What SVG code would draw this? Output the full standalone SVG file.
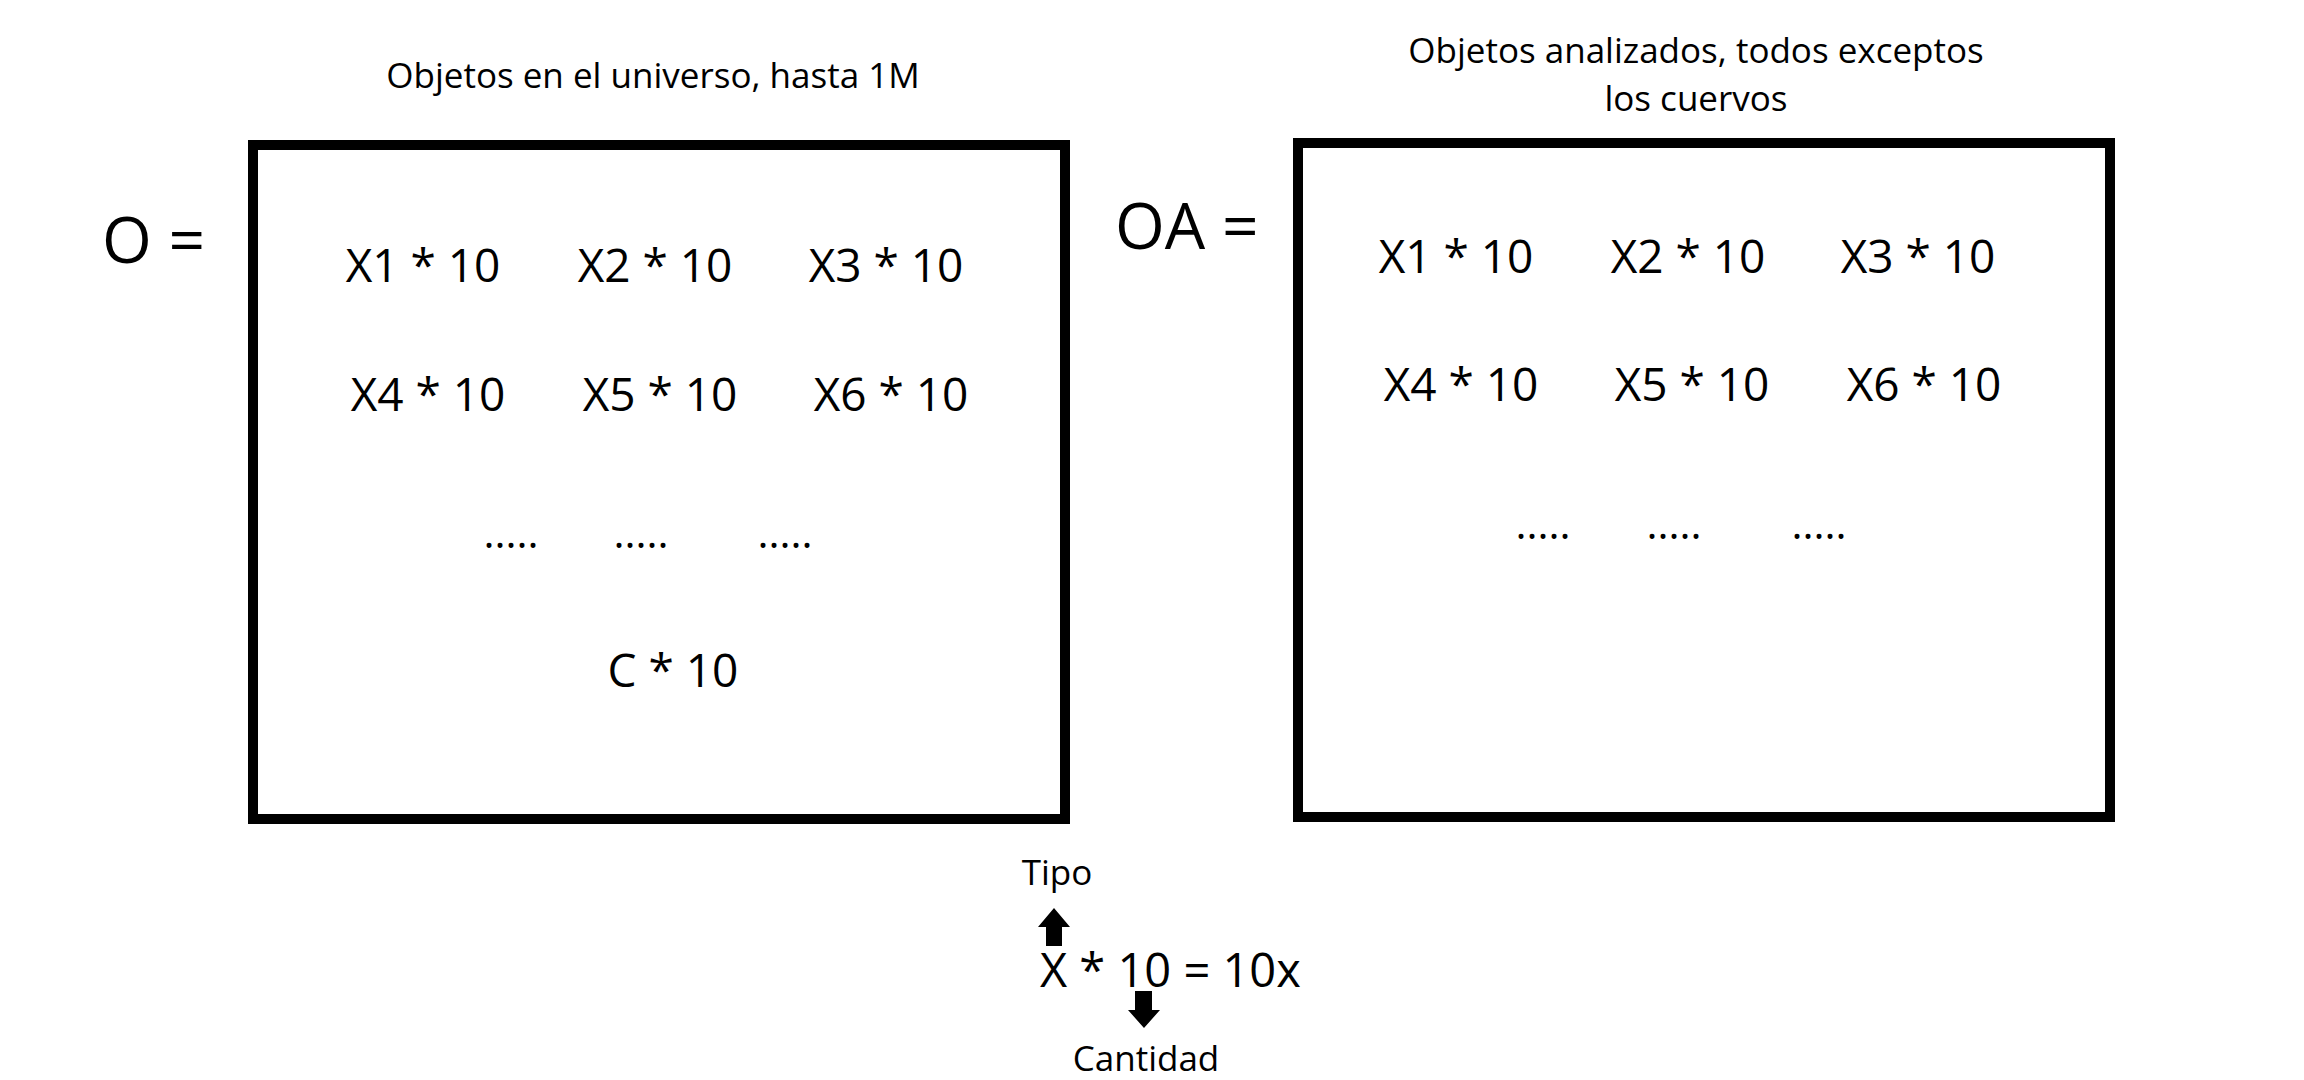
<svg xmlns="http://www.w3.org/2000/svg" width="2304" height="1080" viewBox="0 0 2304 1080">
<style>
text{font-family:"Open Sans","Noto Sans","Liberation Sans",sans-serif;fill:#000}
.box{fill:none;stroke:#000;stroke-width:10}
.title{font-size:35px;text-anchor:middle}
.eq{font-size:64px}
.item{font-size:46px;text-anchor:middle}
.dots{font-size:42px;text-anchor:middle}
.small{font-size:35px;text-anchor:middle}
.arrow{fill:#000}
</style>
<rect width="2304" height="1080" fill="#fff"/>
<g id="node-O">
<text class="title" x="653" y="88">Objetos en el universo, hasta 1M</text>
<text class="eq" x="102" y="263">O =</text>
<rect class="box" x="253" y="145" width="812" height="674"/>
<text class="item" x="423" y="282">X1 * 10</text>
<text class="item" x="655" y="282">X2 * 10</text>
<text class="item" x="886" y="282">X3 * 10</text>
<text class="item" x="428" y="411">X4 * 10</text>
<text class="item" x="660" y="411">X5 * 10</text>
<text class="item" x="891" y="411">X6 * 10</text>
<text class="dots" x="511" y="548">.....</text>
<text class="dots" x="641" y="548">.....</text>
<text class="dots" x="785" y="548">.....</text>
<text class="item" x="673" y="687">C * 10</text>
</g>
<g id="node-OA">
<text class="title" x="1696" y="63">Objetos analizados, todos exceptos</text>
<text class="title" x="1696" y="111">los cuervos</text>
<text class="eq" x="1115" y="249">OA =</text>
<rect class="box" x="1298" y="143" width="812" height="674"/>
<text class="item" x="1456" y="273">X1 * 10</text>
<text class="item" x="1688" y="273">X2 * 10</text>
<text class="item" x="1918" y="273">X3 * 10</text>
<text class="item" x="1461" y="401">X4 * 10</text>
<text class="item" x="1692" y="401">X5 * 10</text>
<text class="item" x="1924" y="401">X6 * 10</text>
<text class="dots" x="1543" y="539">.....</text>
<text class="dots" x="1674" y="539">.....</text>
<text class="dots" x="1819" y="539">.....</text>
</g>
<g id="node-formula">
<text class="small" x="1057" y="885">Tipo</text>
<text class="item" x="1040" y="987" style="text-anchor:start;font-size:47px">X * 10 = 10x</text>
<text class="small" x="1146" y="1071">Cantidad</text>
</g>
<g id="connectors">
<polygon class="arrow" points="1054,908 1070,927 1062,927 1062,946 1046,946 1046,927 1038,927"/>
<polygon class="arrow" points="1135,991 1152,991 1152,1010 1160,1010 1144,1028 1128,1010 1135,1010"/>
</g>
</svg>
